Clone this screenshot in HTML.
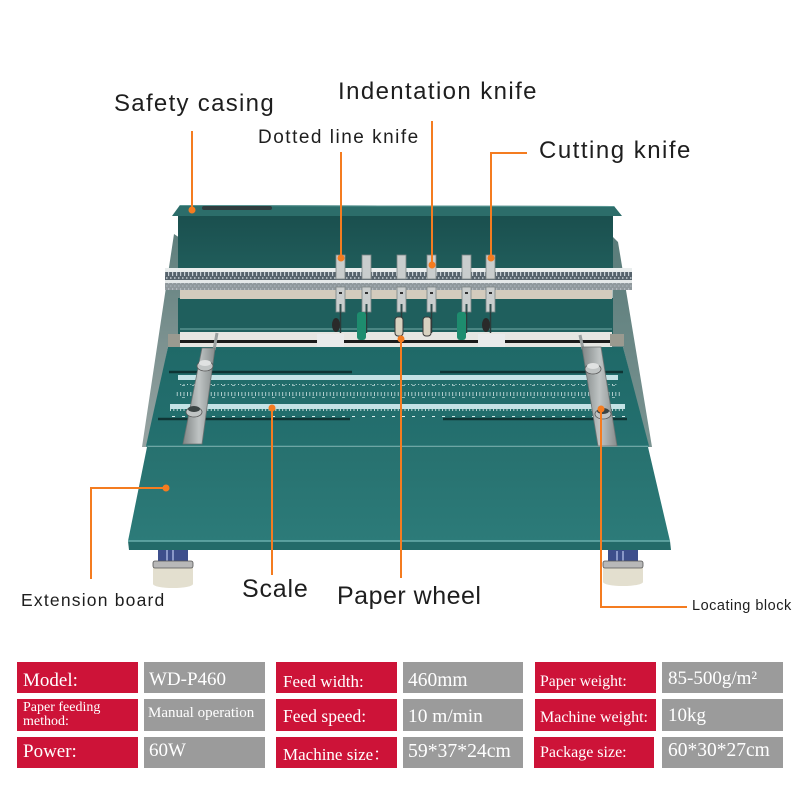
<!DOCTYPE html>
<html><head><meta charset="utf-8">
<style>
html,body{margin:0;padding:0;background:#fff;}
#c{position:relative;width:800px;height:800px;overflow:hidden;background:#fff;}
svg{position:absolute;left:0;top:0;}
.l{position:absolute;font-family:"Liberation Sans",sans-serif;color:#1e1e1e;white-space:nowrap;line-height:1;}
.cell{position:absolute;}
.r{background:#cd1338;}
.g{background:#9b9b9b;}
.t{position:absolute;font-family:"Liberation Serif","Noto Serif CJK SC",serif;color:#fff;white-space:nowrap;line-height:1;}
</style></head><body><div id="c">
<svg width="800" height="800" viewBox="0 0 800 800">
<defs>
<linearGradient id="silv" x1="0" x2="1" y1="0" y2="0"><stop offset="0" stop-color="#7f8585"/><stop offset=".5" stop-color="#bfc4c4"/><stop offset="1" stop-color="#868c8c"/></linearGradient>
<linearGradient id="lside" x1="0" y1="0" x2="0" y2="1"><stop offset="0" stop-color="#5f7f7d"/><stop offset="1" stop-color="#97a3a2"/></linearGradient>
<linearGradient id="rside" x1="0" y1="0" x2="0" y2="1"><stop offset="0" stop-color="#5a7c7a"/><stop offset="1" stop-color="#7a9391"/></linearGradient>
<linearGradient id="back" x1="0" y1="0" x2="0" y2="1"><stop offset="0" stop-color="#1a4f4e"/><stop offset="1" stop-color="#205d5b"/></linearGradient>
<linearGradient id="tab" x1="0" y1="0" x2="0" y2="1"><stop offset="0" stop-color="#1f6968"/><stop offset="1" stop-color="#24706f"/></linearGradient>
<linearGradient id="ext" x1="0" y1="0" x2="0" y2="1"><stop offset="0" stop-color="#27716f"/><stop offset="1" stop-color="#2c7b79"/></linearGradient>
<pattern id="tk" width="3.4" height="8" patternUnits="userSpaceOnUse"><rect width="0.8" height="3" fill="#e6f2f2"/></pattern>
<pattern id="tkl" width="3.4" height="8" patternUnits="userSpaceOnUse"><rect width="0.8" height="4" fill="#cfe3e3"/></pattern>
<pattern id="num" width="10" height="4" patternUnits="userSpaceOnUse"><rect x="2" y="0" width="3" height="1.6" fill="#d9ecec"/></pattern>
<pattern id="rb" width="4" height="8" patternUnits="userSpaceOnUse"><rect width="1.2" height="4" fill="#c6ced4"/><rect x="2" y="5" width="1.5" height="2" fill="#aab4ba"/></pattern>
</defs>

<polygon points="174,234 180,238 180,347 168,347 148,447 142,447" fill="url(#lside)"/>
<polygon points="613,237 618,242 652,447 648,447 623,347 612,347" fill="url(#rside)"/>

<rect x="178" y="214" width="435" height="56" fill="url(#back)"/>
<polygon points="172,216 180,205 614,206 622,216" fill="#2c6d6a"/>
<line x1="180" y1="205.5" x2="614" y2="206.5" stroke="#5a9693" stroke-width="1"/>
<rect x="202" y="206" width="70" height="4" rx="2" fill="#2f3c3e"/>

<rect x="178" y="298" width="435" height="36" fill="#1f5f5d"/>
<line x1="180" y1="329" x2="612" y2="329" stroke="#4a8683" stroke-width="2"/>
<rect x="180" y="289" width="432" height="10" fill="#d3cbbd"/>

<rect x="165" y="268" width="467" height="4" fill="#e9eded"/>
<rect x="165" y="272" width="467" height="8" fill="#56636c"/>
<rect x="165" y="272" width="467" height="8" fill="url(#rb)"/>
<rect x="165" y="280" width="467" height="3" fill="#e4e8e8"/>
<rect x="165" y="283" width="467" height="7" fill="#8f989c"/>
<rect x="165" y="283" width="467" height="7" fill="url(#rb)" opacity=".6"/>

<rect x="180" y="332" width="432" height="16" fill="#e6e6e2"/>
<rect x="180" y="340" width="432" height="3" fill="#1b1b1b"/>
<rect x="168" y="334" width="12" height="13" fill="#9a9a90"/>
<rect x="610" y="334" width="14" height="12" fill="#9a9a90"/>

<g fill="#c9cdcd" stroke="#7e8686" stroke-width="0.8">
<rect x="336" y="255" width="9" height="24"/><rect x="362" y="255" width="9" height="24"/><rect x="397" y="255" width="9" height="24"/><rect x="427" y="255" width="9" height="24"/><rect x="462" y="255" width="9" height="24"/><rect x="486" y="255" width="9" height="24"/>
<rect x="336" y="287" width="9" height="25"/><rect x="362" y="287" width="9" height="25"/><rect x="397" y="287" width="9" height="25"/><rect x="427" y="287" width="9" height="25"/><rect x="462" y="287" width="9" height="25"/><rect x="486" y="287" width="9" height="25"/>
</g>
<g fill="#333">
<rect x="339" y="292" width="3" height="2"/><rect x="365" y="292" width="3" height="2"/><rect x="400" y="292" width="3" height="2"/><rect x="430" y="292" width="3" height="2"/><rect x="465" y="292" width="3" height="2"/><rect x="489" y="292" width="3" height="2"/>
</g>
<g fill="#2f4d4d">
<rect x="339.5" y="304" width="2" height="8"/><rect x="365.5" y="304" width="2" height="8"/><rect x="400.5" y="304" width="2" height="8"/><rect x="430.5" y="304" width="2" height="8"/><rect x="465.5" y="304" width="2" height="8"/><rect x="489.5" y="304" width="2" height="8"/>
</g>
<g stroke="#2c3a3a" stroke-width="1.5">
<line x1="340.5" y1="312" x2="340.5" y2="333"/><line x1="366.5" y1="312" x2="366.5" y2="333"/><line x1="401.5" y1="312" x2="401.5" y2="333"/><line x1="431.5" y1="312" x2="431.5" y2="333"/><line x1="466.5" y1="312" x2="466.5" y2="333"/><line x1="490.5" y1="312" x2="490.5" y2="333"/>
</g>
<rect x="357" y="312" width="9" height="28" rx="3" fill="#1e8c6e"/>
<rect x="457" y="312" width="9" height="28" rx="3" fill="#1e8c6e"/>
<rect x="395" y="317" width="8" height="19" rx="3" fill="#d8d2c0" stroke="#3a3a3a" stroke-width="1"/>
<rect x="423" y="317" width="8" height="19" rx="3" fill="#d8d2c0" stroke="#3a3a3a" stroke-width="1"/>
<ellipse cx="336" cy="325" rx="4" ry="7" fill="#2a2a2a"/>
<ellipse cx="486" cy="325" rx="4" ry="7" fill="#2a2a2a"/>
<rect x="317" y="334" width="27" height="13" fill="#e9ebeb"/>
<rect x="478" y="334" width="27" height="13" fill="#e9ebeb"/>

<rect x="158" y="548" width="30" height="14" fill="#3e4f8c"/>
<rect x="166" y="549" width="2" height="12" fill="#8a98c8"/><rect x="172" y="549" width="2" height="12" fill="#8a98c8"/>
<rect x="153" y="566" width="40" height="18" fill="#e3dfcf"/>
<ellipse cx="173" cy="584" rx="20" ry="4" fill="#e3dfcf"/>
<rect x="153" y="561" width="40" height="7" rx="2" fill="#b8b8b8" stroke="#555" stroke-width=".8"/>
<rect x="608" y="550" width="30" height="13" fill="#3e4f8c"/>
<rect x="616" y="551" width="2" height="11" fill="#8a98c8"/><rect x="622" y="551" width="2" height="11" fill="#8a98c8"/>
<rect x="603" y="566" width="40" height="16" fill="#e3dfcf"/>
<ellipse cx="623" cy="582" rx="20" ry="4" fill="#e3dfcf"/>
<rect x="603" y="561" width="40" height="7" rx="2" fill="#b8b8b8" stroke="#555" stroke-width=".8"/>

<polygon points="168,347 623,347 649,446 146,446" fill="url(#tab)"/>
<g stroke="#0f3434" stroke-width="2.5">
<line x1="169" y1="372" x2="352" y2="372"/><line x1="440" y1="372" x2="623" y2="372"/>
<line x1="158" y1="419" x2="350" y2="419"/><line x1="443" y1="419" x2="627" y2="419"/>
</g>
<rect x="178" y="375" width="440" height="5" fill="#c4e2e5"/>
<rect x="178" y="380" width="440" height="5" fill="url(#tk)"/>
<rect x="178" y="385" width="440" height="3" fill="url(#num)"/>
<rect x="175" y="390" width="447" height="6" fill="url(#tkl)"/>
<rect x="175" y="397" width="447" height="3" fill="url(#num)"/>
<rect x="170" y="404" width="455" height="5" fill="#c4e2e5"/>
<rect x="170" y="409" width="455" height="5" fill="url(#tk)"/>
<rect x="170" y="414" width="455" height="3" fill="url(#num)"/>
<line x1="146" y1="446" x2="649" y2="446" stroke="#3f8785" stroke-width="1.5"/>

<polygon points="147,447 648,447 670,541 128,541" fill="url(#ext)"/>
<polygon points="128,541 670,541 671,550 129,550" fill="#246b69"/>
<line x1="128" y1="541" x2="670" y2="541" stroke="#6aaeac" stroke-width="1.5"/>

<line x1="217" y1="333" x2="214" y2="350" stroke="#9aa0a0" stroke-width="3"/>
<polygon points="202,348 215,348 202,444 183,444" fill="url(#silv)" stroke="#6d7373" stroke-width=".8"/>
<ellipse cx="205" cy="366" rx="8" ry="5" fill="#c0c4c4" stroke="#555" stroke-width=".8"/>
<ellipse cx="205" cy="363" rx="6" ry="3" fill="#e0e2e2"/>
<ellipse cx="194" cy="412" rx="8" ry="5" fill="#c0c4c4" stroke="#555" stroke-width=".8"/>
<ellipse cx="194" cy="409" rx="6" ry="3" fill="#3c4444"/>
<line x1="580" y1="335" x2="583" y2="349" stroke="#9aa0a0" stroke-width="3"/>
<polygon points="582,347 601,347 617,446 598,446" fill="url(#silv)" stroke="#6d7373" stroke-width=".8"/>
<ellipse cx="593" cy="369" rx="8" ry="5" fill="#c0c4c4" stroke="#555" stroke-width=".8"/>
<ellipse cx="593" cy="366" rx="6" ry="3" fill="#e0e2e2"/>
<ellipse cx="603" cy="414" rx="8" ry="5" fill="#c0c4c4" stroke="#555" stroke-width=".8"/>
<ellipse cx="603" cy="411" rx="6" ry="3" fill="#3c4444"/>

<g stroke="#f47c20" stroke-width="2" fill="none">
<line x1="192" y1="131" x2="192" y2="210"/>
<line x1="341" y1="152" x2="341" y2="258"/>
<line x1="432" y1="121" x2="432" y2="265"/>
<polyline points="527,153 491,153 491,258"/>
<line x1="401" y1="339" x2="401" y2="578"/>
<line x1="272" y1="408" x2="272" y2="575"/>
<polyline points="166,488 91,488 91,579"/>
<polyline points="601,409 601,607 687,607"/>
</g>
<g fill="#f47c20">
<circle cx="192" cy="210" r="3.5"/><circle cx="341" cy="258" r="3.5"/><circle cx="432" cy="265" r="3.5"/><circle cx="491" cy="258" r="3.5"/>
<circle cx="401" cy="339" r="3.5"/><circle cx="272" cy="408" r="3.5"/><circle cx="166" cy="488" r="3.5"/><circle cx="601" cy="409" r="3.5"/>
</g>
</svg>

<div class="l" style="left:114px;top:92px;font-size:24px;letter-spacing:1.3px;">Safety casing</div>
<div class="l" style="left:338px;top:80px;font-size:24px;letter-spacing:1.4px;">Indentation knife</div>
<div class="l" style="left:258px;top:128px;font-size:19px;letter-spacing:1.5px;">Dotted line knife</div>
<div class="l" style="left:539px;top:139px;font-size:24px;letter-spacing:1.5px;">Cutting knife</div>
<div class="l" style="left:21px;top:592px;font-size:17.5px;letter-spacing:1.2px;">Extension board</div>
<div class="l" style="left:242px;top:577px;font-size:25px;letter-spacing:0.8px;">Scale</div>
<div class="l" style="left:337px;top:584px;font-size:25px;letter-spacing:0.5px;">Paper wheel</div>
<div class="l" style="left:692px;top:599px;font-size:14.5px;letter-spacing:0.5px;">Locating block</div>

<div class="cell r" style="left:17px;top:662px;width:121px;height:31px;"></div>
<div class="cell g" style="left:144px;top:662px;width:121px;height:31px;"></div>
<div class="cell r" style="left:276px;top:662px;width:121px;height:31px;"></div>
<div class="cell g" style="left:403px;top:662px;width:120px;height:31px;"></div>
<div class="cell r" style="left:535px;top:662px;width:121px;height:31px;"></div>
<div class="cell g" style="left:662px;top:662px;width:121px;height:31px;"></div>

<div class="cell r" style="left:17px;top:699px;width:121px;height:32px;"></div>
<div class="cell g" style="left:144px;top:699px;width:121px;height:32px;"></div>
<div class="cell r" style="left:276px;top:699px;width:121px;height:32px;"></div>
<div class="cell g" style="left:403px;top:699px;width:120px;height:32px;"></div>
<div class="cell r" style="left:535px;top:699px;width:121px;height:32px;"></div>
<div class="cell g" style="left:662px;top:699px;width:121px;height:32px;"></div>

<div class="cell r" style="left:17px;top:737px;width:121px;height:31px;"></div>
<div class="cell g" style="left:144px;top:737px;width:121px;height:31px;"></div>
<div class="cell r" style="left:276px;top:737px;width:121px;height:31px;"></div>
<div class="cell g" style="left:403px;top:737px;width:120px;height:31px;"></div>
<div class="cell r" style="left:534px;top:737px;width:120px;height:31px;"></div>
<div class="cell g" style="left:662px;top:737px;width:121px;height:31px;"></div>

<div class="t" style="left:23px;top:671px;font-size:19px;">Model:</div>
<div class="t" style="left:149px;top:670px;font-size:19px;">WD-P460</div>
<div class="t" style="left:283px;top:673px;font-size:17px;">Feed width:</div>
<div class="t" style="left:408px;top:671px;font-size:19.5px;">460mm</div>
<div class="t" style="left:540px;top:674px;font-size:15.7px;">Paper weight:</div>
<div class="t" style="left:668px;top:669px;font-size:19px;">85-500g/m²</div>

<div class="t" style="left:23px;top:701px;font-size:14px;line-height:14px;">Paper feeding<br>method:</div>
<div class="t" style="left:148px;top:706px;font-size:15px;">Manual operation</div>
<div class="t" style="left:283px;top:708px;font-size:17.5px;">Feed speed:</div>
<div class="t" style="left:408px;top:707px;font-size:19.4px;">10 m/min</div>
<div class="t" style="left:540px;top:710px;font-size:16px;">Machine weight:</div>
<div class="t" style="left:668px;top:706px;font-size:19px;">10kg</div>

<div class="t" style="left:23px;top:742px;font-size:19px;">Power:</div>
<div class="t" style="left:149px;top:741px;font-size:19px;">60W</div>
<div class="t" style="left:283px;top:746px;font-size:17px;">Machine size：</div>
<div class="t" style="left:408px;top:742px;font-size:19.7px;">59*37*24cm</div>
<div class="t" style="left:540px;top:745px;font-size:16px;">Package size:</div>
<div class="t" style="left:668px;top:741px;font-size:19.5px;">60*30*27cm</div>
</div></body></html>
